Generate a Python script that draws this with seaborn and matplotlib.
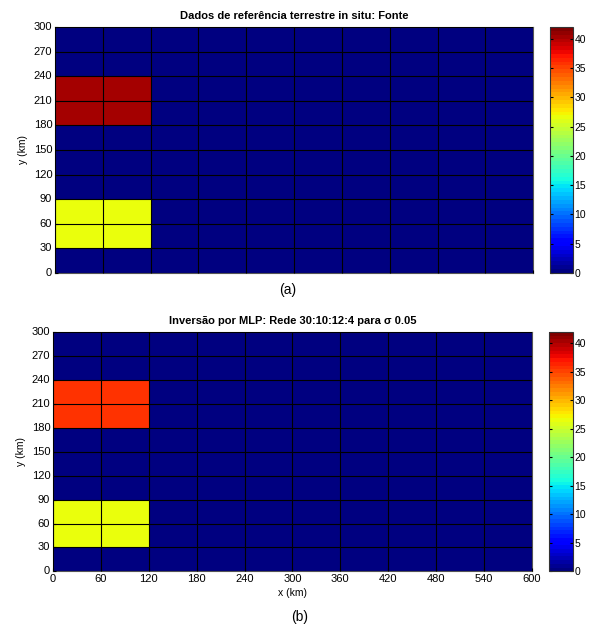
import numpy as np
import matplotlib
matplotlib.use('Agg')
import matplotlib.pyplot as plt
import seaborn as sns

plt.rcParams['font.family'] = ['Liberation Sans', 'DejaVu Sans']

# grid: 10 columns of 60 km (x), 10 rows of 30 km (y), rows listed from y=0 upward
x_ticks = [0, 60, 120, 180, 240, 300, 360, 420, 480, 540, 600]
y_ticks = [0, 30, 60, 90, 120, 150, 180, 210, 240, 270, 300]
cbar_ticks = [0, 5, 10, 15, 20, 25, 30, 35, 40]

bg = 0.5
ref_red, ref_yel = 40.2, 26.7   # (a) reference values
mlp_red, mlp_yel = 36.0, 26.7   # (b) MLP inversion values

ref_rows = [
    [bg] * 10,
    [ref_yel, ref_yel] + [bg] * 8,
    [ref_yel, ref_yel] + [bg] * 8,
    [bg] * 10,
    [bg] * 10,
    [bg] * 10,
    [ref_red, ref_red] + [bg] * 8,
    [ref_red, ref_red] + [bg] * 8,
    [bg] * 10,
    [bg] * 10,
]
mlp_rows = [
    [bg] * 10,
    [mlp_yel, mlp_yel] + [bg] * 8,
    [mlp_yel, mlp_yel] + [bg] * 8,
    [bg] * 10,
    [bg] * 10,
    [bg] * 10,
    [mlp_red, mlp_red] + [bg] * 8,
    [mlp_red, mlp_red] + [bg] * 8,
    [bg] * 10,
    [bg] * 10,
]

jet = plt.get_cmap('jet', 64)

fig = plt.figure(figsize=(5.89, 6.30), dpi=100)
fig.patch.set_facecolor('white')

panels = [
    (ref_rows, [0.0934, 0.567, 0.812, 0.390], [0.934, 0.567, 0.038, 0.390],
     'Dados de referência terrestre in situ: Fonte', False),
    (mlp_rows, [0.0900, 0.093, 0.813, 0.380], [0.932, 0.093, 0.040, 0.380],
     'Inversão por MLP: Rede 30:10:12:4 para σ 0.05', True),
]

for rows, apos, cpos, title, show_x in panels:
    ax = fig.add_axes(apos)
    cax = fig.add_axes(cpos)
    sns.heatmap(np.array(rows), ax=ax, cbar_ax=cax, cmap=jet, vmin=0, vmax=42,
                linewidths=0, cbar_kws={'ticks': cbar_ticks})
    ax.invert_yaxis()
    ax.set_xticks(range(11))
    ax.set_yticks(range(11))
    ax.set_yticklabels(y_ticks, rotation=0)
    # cell borders as grid lines on the cell edges
    ax.set_axisbelow(False)
    ax.grid(True, color='black', linewidth=0.8)
    if show_x:
        ax.set_xticklabels(x_ticks, rotation=0)
        ax.set_xlabel('x (km)', fontsize=7.5, labelpad=3)
    else:
        ax.set_xticklabels([])
    ax.set_ylabel('y (km)', fontsize=7.5)
    ax.tick_params(direction='in', length=2, labelsize=8, pad=2)
    for s in ax.spines.values():
        s.set_visible(True)
        s.set_color('#555555')
        s.set_linewidth(0.8)
    ax.set_title(title, fontsize=8, fontweight='bold', pad=6)
    cax.tick_params(direction='in', left=True, right=True, length=2.5,
                    labelsize=7.5, pad=1.5)
    cb = ax.collections[0].colorbar
    cb.outline.set_visible(True)
    cb.outline.set_linewidth(0.8)
    cb.outline.set_edgecolor('#333333')

fig.text(288 / 589, 1 - 290 / 630, '(a)', ha='center', va='center', fontsize=10)
fig.text(300 / 589, 1 - 617 / 630, '(b)', ha='center', va='center', fontsize=10)

plt.savefig('out.png', dpi=100)
plt.close()
